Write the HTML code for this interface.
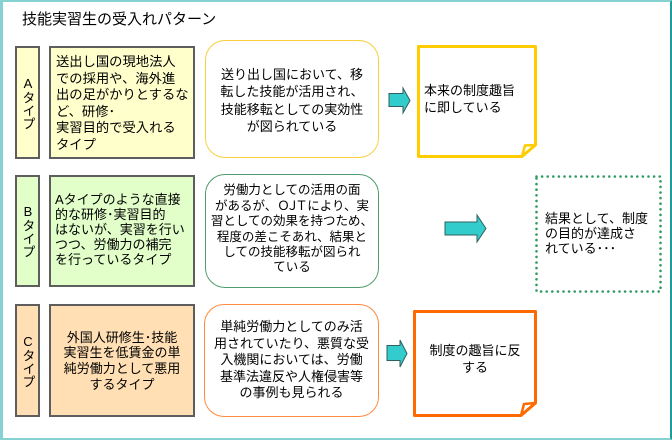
<!DOCTYPE html>
<html lang="ja">
<head>
<meta charset="utf-8">
<style>
  html, body { margin:0; padding:0; }
  body { width:672px; height:440px; position:relative; overflow:hidden; background:#fff;
         font-family:"Liberation Sans","Noto Sans CJK JP",sans-serif; color:#000; }
  .abs { position:absolute; }
  .frame { left:0; top:0; width:672px; height:440px; box-sizing:border-box;
           border-left:3px solid #86d2d2; border-top:2px solid #86d2d2; border-bottom:2px solid #86d2d2;
           border-right:2px solid #1e9c9c; }
  .title { left:22px; top:9px; font-size:15px; line-height:22px; white-space:nowrap; }
  .type { box-sizing:border-box; border:2px solid #5e5e5e; display:flex; align-items:center; justify-content:center; }
  .type span { writing-mode:vertical-rl; text-orientation:upright; font-size:13px; line-height:14px; }
  .desc { box-sizing:border-box; border:2px solid #5e5e5e; }
  .txt { white-space:nowrap; font-size:13px; }
  .rbox { box-sizing:border-box; border-radius:20px; background:#fff; }
  .ojt { letter-spacing:-3.5px; margin-right:3px; }
</style>
</head>
<body>
<div class="abs frame"></div>

<div class="abs title">技能実習生の受入れパターン</div>

<!-- Row A -->
<div class="abs type" style="left:15px;top:46px;width:25px;height:113px;background:#ffffcc;"><span>Aタイプ</span></div>
<div class="abs desc" style="left:49px;top:46px;width:146px;height:113px;background:#ffffcc;"></div>
<div class="abs txt" style="left:56px;top:54px;line-height:16.6px;font-size:13.3px;">送出し国の現地法人<br>での採用や、海外進<br>出の足がかりとするな<br>ど、研修･<br>実習目的で受入れる<br>タイプ</div>

<div class="abs rbox" style="left:205px;top:40px;width:174px;height:118px;border:1.5px solid #f7cf3c;"></div>
<div class="abs txt" style="left:205px;top:66px;width:174px;text-align:center;line-height:17.3px;">送り出し国において、移<br>転した技能が活用され、<br>技能移転としての実効性<br>が図られている</div>

<svg class="abs" style="left:0;top:0;" width="672" height="440">
  <!-- Arrow A -->
  <polygon points="389,93.5 403,93.5 403,88 410,100.5 403,113 403,106.5 389,106.5" fill="#33cccc" stroke="#2f5f5f" stroke-width="1"/>
  <!-- Arrow B -->
  <polygon points="445,222 477,222 477,215 486,228.5 477,242 477,235 445,235" fill="#33cccc" stroke="#2f5f5f" stroke-width="1"/>
  <!-- Arrow C -->
  <polygon points="387,345.5 400,345.5 400,340 407,353.5 400,367 400,360.5 387,360.5" fill="#33cccc" stroke="#2f5f5f" stroke-width="1"/>

  <!-- Note A -->
  <path d="M418.5,46.5 L535.5,46.5 L535.5,145 L522,156.5 L418.5,156.5 Z" fill="#fff" stroke="#ffcc00" stroke-width="3" stroke-linejoin="round"/>
  <path d="M522,156.5 L525,145.5 L535.5,145" fill="none" stroke="#ffcc00" stroke-width="2.5" stroke-linejoin="round"/>

  <!-- Note C -->
  <path d="M414.5,311.5 L535.5,311.5 L535.5,403 L521,415.5 L414.5,415.5 Z" fill="#fff" stroke="#ff6a00" stroke-width="3" stroke-linejoin="round"/>
  <path d="M521,415.5 L524,404 L535.5,403" fill="none" stroke="#ff6a00" stroke-width="2.5" stroke-linejoin="round"/>

  <!-- Dotted box -->
  <rect x="536.5" y="176.5" width="124" height="115" fill="none" stroke="#2f9a62" stroke-width="2.6" stroke-dasharray="0 5.6" stroke-linecap="round"/>
</svg>

<div class="abs txt" style="left:424px;top:81.5px;line-height:17px;">本来の制度趣旨<br>に即している</div>

<!-- Row B -->
<div class="abs type" style="left:15px;top:175px;width:25px;height:112px;background:#e2ffca;"><span>Bタイプ</span></div>
<div class="abs desc" style="left:49px;top:175px;width:146px;height:112px;background:#e2ffca;"></div>
<div class="abs txt" style="left:55px;top:191.5px;line-height:15px;">Aタイプのような直接<br>的な研修･実習目的<br>はないが、実習を行い<br>つつ、労働力の補完<br>を行っているタイプ</div>

<div class="abs rbox" style="left:205px;top:174px;width:174px;height:114px;border:1.5px solid #4f9d6e;"></div>
<div class="abs txt" style="left:205px;top:183.3px;width:174px;text-align:center;line-height:15.4px;font-size:12.5px;">労働力としての活用の面<br>があるが、<span class="ojt">ＯＪＴ</span>により、実<br>習としての効果を持つため、<br>程度の差こそあれ、結果と<br>しての技能移転が図られ<br>ている</div>

<div class="abs txt" style="left:545px;top:210.5px;line-height:15px;">結果として、制度<br>の目的が達成さ<br>れている･･･</div>

<!-- Row C -->
<div class="abs type" style="left:15px;top:304px;width:25px;height:113px;background:#ffdfb3;"><span>Cタイプ</span></div>
<div class="abs desc" style="left:49px;top:304px;width:146px;height:113px;background:#ffdfb3;"></div>
<div class="abs txt" style="left:49px;top:329.5px;width:146px;text-align:center;line-height:15.8px;">外国人研修生･技能<br>実習生を低賃金の単<br>純労働力として悪用<br>するタイプ</div>

<div class="abs rbox" style="left:204px;top:304px;width:175px;height:113px;border:1.5px solid #ff8a3d;"></div>
<div class="abs txt" style="left:204px;top:319px;width:175px;text-align:center;line-height:16.5px;">単純労働力としてのみ活<br>用されていたり、悪質な受<br>入機関においては、労働<br>基準法違反や人権侵害等<br>の事例も見られる</div>

<div class="abs txt" style="left:413px;top:343px;width:124px;text-align:center;line-height:16.5px;">制度の趣旨に反<br>する</div>

</body>
</html>
